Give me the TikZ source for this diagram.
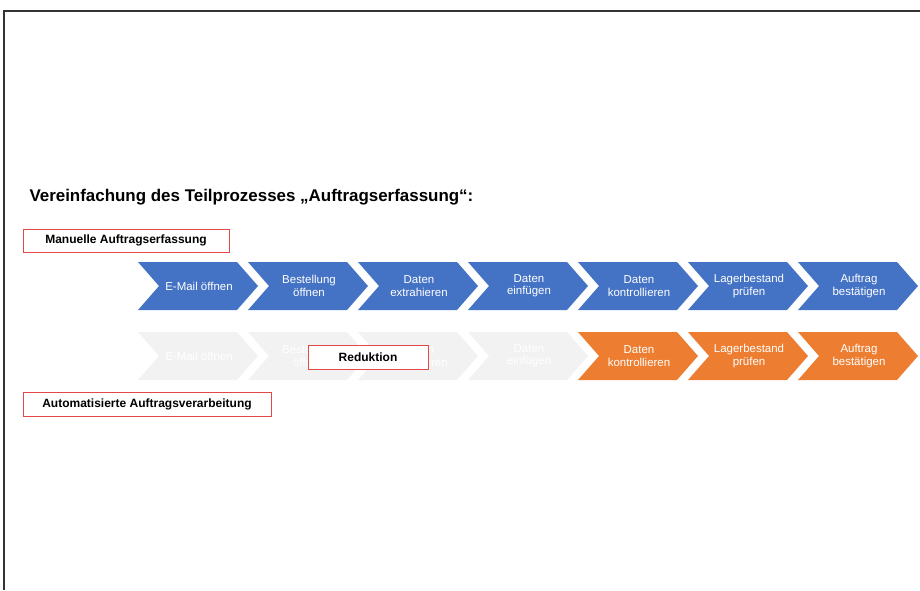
\documentclass[tikz,border=0pt]{standalone}
\usepackage{fontspec}
\setmainfont{Liberation Sans}

\definecolor{chevblue}{RGB}{68,114,196}
\definecolor{chevorange}{RGB}{237,125,49}
\definecolor{chevgrey}{RGB}{242,242,242}
\definecolor{boxred}{RGB}{226,72,72}

\tikzset{every picture/.style={line width=0.75pt}}
\tikzset{
	chevtext/.style={text=white, align=center, font=\fontsize{8.6}{9.2}\selectfont},
	redbox/.style={draw=boxred, fill=white, line width=0.75pt, inner sep=0pt, font=\fontsize{9}{11}\selectfont\bfseries},
	chevblue/.style={draw=none, fill=chevblue},
	chevorange/.style={draw=none, fill=chevorange},
	chevgrey/.style={draw=none, fill=chevgrey}}

\begin{document}
\begin{tikzpicture}[x=0.75pt,y=0.75pt,yscale=-1,xscale=1]
	\useasboundingbox (0,0) rectangle (920,590);

	%Straight Lines [frame]
	\draw [color={rgb, 255:red, 51; green, 51; blue, 51 }, line width=1.1pt] (920,11) -- (4,11) -- (4,590) ;

	%Shape: Chevron [Manuelle Auftragserfassung]
	\fill [chevblue] (138,262) -- (237,262) -- (258,286) -- (237,310) -- (138,310) -- (159,286) -- cycle ;
	\fill [chevblue] (248,262) -- (347,262) -- (368,286) -- (347,310) -- (248,310) -- (269,286) -- cycle ;
	\fill [chevblue] (358,262) -- (457,262) -- (478,286) -- (457,310) -- (358,310) -- (379,286) -- cycle ;
	\fill [chevblue] (468,262) -- (567,262) -- (588,286) -- (567,310) -- (468,310) -- (489,286) -- cycle ;
	\fill [chevblue] (578,262) -- (677,262) -- (698,286) -- (677,310) -- (578,310) -- (599,286) -- cycle ;
	\fill [chevblue] (688,262) -- (787,262) -- (808,286) -- (787,310) -- (688,310) -- (709,286) -- cycle ;
	\fill [chevblue] (798,262) -- (897,262) -- (918,286) -- (897,310) -- (798,310) -- (819,286) -- cycle ;

	%Shape: Chevron [Automatisierte Auftragsverarbeitung]
	\fill [chevgrey] (138,332) -- (237,332) -- (258,356) -- (237,380) -- (138,380) -- (159,356) -- cycle ;
	\fill [chevgrey] (248,332) -- (347,332) -- (368,356) -- (347,380) -- (248,380) -- (269,356) -- cycle ;
	\fill [chevgrey] (358,332) -- (457,332) -- (478,356) -- (457,380) -- (358,380) -- (379,356) -- cycle ;
	\fill [chevgrey] (468,332) -- (567,332) -- (588,356) -- (567,380) -- (468,380) -- (489,356) -- cycle ;
	\fill [chevorange] (578,332) -- (677,332) -- (698,356) -- (677,380) -- (578,380) -- (599,356) -- cycle ;
	\fill [chevorange] (688,332) -- (787,332) -- (808,356) -- (787,380) -- (688,380) -- (709,356) -- cycle ;
	\fill [chevorange] (798,332) -- (897,332) -- (918,356) -- (897,380) -- (798,380) -- (819,356) -- cycle ;

	% Text Node
	\node [chevtext] (m1) at (199,286) {E-Mail öffnen};
	% Text Node
	\node [chevtext] (m2) at (309,286) {Bestellung\\öffnen};
	% Text Node
	\node [chevtext] (m3) at (419,286) {Daten\\extrahieren};
	% Text Node
	\node [chevtext] (m4) at (529,286) {Daten\\einfügen};
	% Text Node
	\node [chevtext] (m5) at (639,286) {Daten\\kontrollieren};
	% Text Node
	\node [chevtext] (m6) at (749,286) {Lagerbestand\\prüfen};
	% Text Node
	\node [chevtext] (m7) at (859,286) {Auftrag\\bestätigen};

	% Text Node
	\node [chevtext] (a1) at (199,356) {E-Mail öffnen};
	% Text Node
	\node [chevtext] (a2) at (309,356) {Bestellung\\öffnen};
	% Text Node
	\node [chevtext] (a3) at (419,356) {Daten\\extrahieren};
	% Text Node
	\node [chevtext] (a4) at (529,356) {Daten\\einfügen};
	% Text Node
	\node [chevtext] (a5) at (639,356) {Daten\\kontrollieren};
	% Text Node
	\node [chevtext] (a6) at (749,356) {Lagerbestand\\prüfen};
	% Text Node
	\node [chevtext] (a7) at (859,356) {Auftrag\\bestätigen};

	% Text Node
	\node [anchor=west, inner sep=0pt, font=\fontsize{12.7}{14}\selectfont\bfseries] (titel) at (29,197) {Vereinfachung des Teilprozesses „Auftragserfassung“:};
	% Text Node
	\node [redbox, minimum width=154.5, minimum height=17.25] (manuell) at (126,240.5) {Manuelle Auftragserfassung};
	% Text Node
	\node [redbox, minimum width=186, minimum height=18] (auto) at (147,404) {Automatisierte Auftragsverarbeitung};
	% Text Node
	\node [redbox, minimum width=90, minimum height=18] (reduktion) at (368,357) {Reduktion};

\end{tikzpicture}
\end{document}
